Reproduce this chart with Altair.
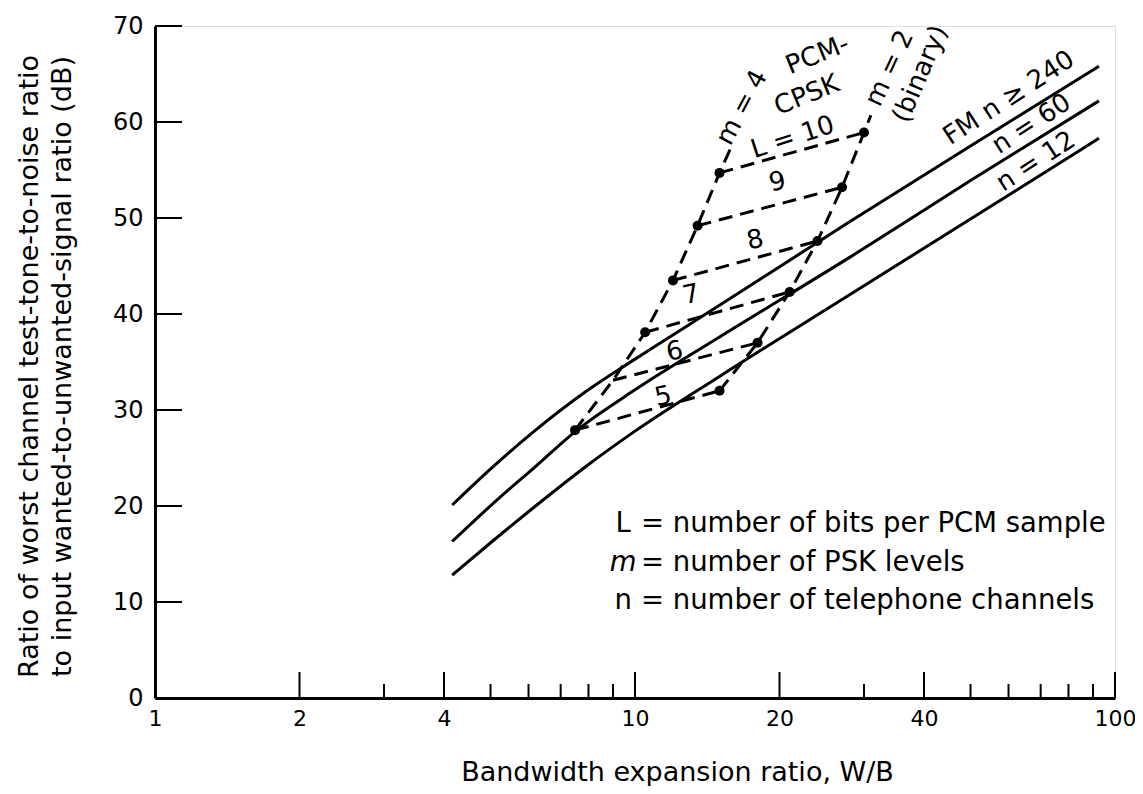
import altair as alt
import pandas as pd

# ---- FM curves (W/B, dB) ----
fm240_x = [4.16, 5.01, 6.17, 7.94, 10.0, 15.0, 28.0, 50.0, 92.6]
fm240_y = [20.1, 23.9, 27.8, 32.0, 35.3, 40.9, 49.6, 57.5, 65.8]
fm60_x = [4.16, 5.23, 6.17, 7.57, 10.0, 15.0, 28.0, 50.0, 92.6]
fm60_y = [16.3, 20.9, 24.0, 27.9, 32.1, 37.6, 45.9, 53.9, 62.2]
fm12_x = [4.16, 5.01, 6.17, 7.94, 10.0, 15.0, 28.0, 50.0, 92.6]
fm12_y = [12.8, 16.2, 19.9, 24.2, 27.8, 33.5, 42.0, 49.9, 58.3]

# ---- PCM-CPSK points, L = 5..10 ----
L_levels = [5, 6, 7, 8, 9, 10]
m4_x = [7.5, 9.0, 10.5, 12.0, 13.5, 15.0]
m4_y = [27.9, 33.1, 38.1, 43.5, 49.2, 54.7]
m2_x = [15.0, 18.0, 21.0, 24.0, 27.0, 30.0]
m2_y = [32.0, 37.0, 42.3, 47.6, 53.2, 58.9]
m4_ext_x, m4_ext_y = 15.8, 57.2
m2_ext_x, m2_ext_y = 31.0, 60.7
m4_dot_levels = [5, 7, 8, 9, 10]

# ---- axis tick values ----
y_ticks = [10, 20, 30, 40, 50, 60, 70]
x_labels = [1, 2, 4, 10, 20, 40, 100]
x_tall = [2, 4, 10, 20, 40, 100]
x_short = [3, 5, 6, 7, 8, 9, 30, 50, 60, 70, 80, 90]

FONT = "DejaVu Sans"
FS = 27

# ---- tables ----
rows = []
for name, xs, ys in [("240", fm240_x, fm240_y), ("60", fm60_x, fm60_y), ("12", fm12_x, fm12_y)]:
    for i, (a, b) in enumerate(zip(xs, ys)):
        rows.append({"s": name, "o": i, "x": a, "y": b})
curves = pd.DataFrame(rows)

drows = []
for i, (a, b) in enumerate(zip(m4_x + [m4_ext_x], m4_y + [m4_ext_y])):
    drows.append({"s": "m4", "o": i, "x": a, "y": b})
for i, (a, b) in enumerate(zip(m2_x + [m2_ext_x], m2_y + [m2_ext_y])):
    drows.append({"s": "m2", "o": i, "x": a, "y": b})
for k, L in enumerate(L_levels):
    drows.append({"s": f"L{L}", "o": 0, "x": m4_x[k], "y": m4_y[k]})
    drows.append({"s": f"L{L}", "o": 1, "x": m2_x[k], "y": m2_y[k]})
dashed = pd.DataFrame(drows)

dots = pd.DataFrame(
    [{"x": m4_x[L_levels.index(L)], "y": m4_y[L_levels.index(L)]} for L in m4_dot_levels]
    + [{"x": a, "y": b} for a, b in zip(m2_x, m2_y)]
)

# ---- encodings ----
xaxis = alt.Axis(values=x_labels, format="d", ticks=False, grid=False,
                 domainWidth=3, domainColor="black", labelPadding=10,
                 labelFontSize=22, labelColor="black", labelFont=FONT,
                 labelFlush=False, labelOverlap=False,
                 title="Bandwidth expansion ratio, W/B", titleFontSize=FS,
                 titleFontWeight="normal", titleFont=FONT, titleColor="black",
                 titleX=522, titleY=74, titleBaseline="middle", titleAlign="center")
yaxis = alt.Axis(values=[0] + y_ticks, ticks=False, grid=False,
                 domainWidth=3, domainColor="black", labelPadding=12,
                 labelFontSize=24, labelColor="black", labelFont=FONT,
                 labelFlush=False, labelOverlap=False,
                 title=["Ratio of worst channel test-tone-to-noise ratio",
                        "to input wanted-to-unwanted-signal ratio (dB)"],
                 titleFontSize=FS, titleFontWeight="normal", titleFont=FONT,
                 titleColor="black", titleAngle=270, titleX=-126, titleY=340,
                 titleBaseline="middle", titleAlign="center", titleLineHeight=33)

XS = alt.Scale(type="log", domain=[1, 100], nice=False)
YS = alt.Scale(domain=[0, 70], nice=False, zero=False)
X = alt.X("x:Q", scale=XS, axis=xaxis)
Y = alt.Y("y:Q", scale=YS, axis=yaxis)

H = 672

curve_layer = alt.Chart(curves).mark_line(color="black", strokeWidth=3, interpolate="monotone").encode(
    x=X, y=Y, detail="s:N", order="o:Q")
dash_layer = alt.Chart(dashed).mark_line(color="black", strokeWidth=3, strokeDash=[14, 8]).encode(
    x=X, y=Y, detail="s:N", order="o:Q")
dot_layer = alt.Chart(dots).mark_point(filled=True, color="black", size=100, opacity=1).encode(x=X, y=Y)

ytick_layer = alt.Chart(pd.DataFrame({"y": y_ticks})).mark_rule(color="black", strokeWidth=2).encode(
    y=Y, x=alt.value(0), x2=alt.value(27))
xtall_layer = alt.Chart(pd.DataFrame({"x": x_tall})).mark_rule(color="black", strokeWidth=2).encode(
    x=X, y=alt.value(H), y2=alt.value(H - 26))
xshort_layer = alt.Chart(pd.DataFrame({"x": x_short})).mark_rule(color="black", strokeWidth=2).encode(
    x=X, y=alt.value(H), y2=alt.value(H - 14))

# ---- annotations: text, x, y, angle ----
ann_text = ["m = 4", "PCM-", "CPSK", "L = 10", "9", "8", "7", "6", "5",
            "m = 2", "(binary)", "FM  n ≥ 240", "n = 60", "n = 12"]
ann_x = [16.7, 24.0, 22.8, 21.3, 19.8, 17.8, 13.1, 12.1, 11.45,
         33.9, 39.3, 60.1, 67.0, 68.4]
ann_y = [61.5, 67.0, 62.8, 58.4, 53.75, 47.7, 42.0, 36.1, 31.4,
         65.6, 65.0, 62.5, 59.8, 55.9]
ann_angle = [298, 338, 338, 342, 348, 348, 348, 348, 348,
             295, 293, 327, 327, 327]

layers = [curve_layer, dash_layer, dot_layer, ytick_layer, xtall_layer, xshort_layer]
for t, a, b, ang in zip(ann_text, ann_x, ann_y, ann_angle):
    layers.append(
        alt.Chart(pd.DataFrame({"x": [a], "y": [b], "t": [t]})).mark_text(
            angle=ang, fontSize=26, font=FONT, color="black", align="center", baseline="middle"
        ).encode(x=X, y=Y, text="t:N")
    )

# ---- definitions block ----
leg_sym = ["L", "m", "n"]
leg_rest = ["= number of bits per PCM sample", "= number of PSK levels",
            "= number of telephone channels"]
leg_y = [18.1, 14.1, 10.1]
leg_sym_x = 9.45
leg_rest_x = 10.29
for s, r, yy in zip(leg_sym, leg_rest, leg_y):
    layers.append(
        alt.Chart(pd.DataFrame({"x": [leg_sym_x], "y": [yy], "t": [s]})).mark_text(
            fontSize=27.5, font=FONT, color="black", align="center", baseline="middle",
            fontStyle="italic" if s == "m" else "normal"
        ).encode(x=X, y=Y, text="t:N")
    )
    layers.append(
        alt.Chart(pd.DataFrame({"x": [leg_rest_x], "y": [yy], "t": [r]})).mark_text(
            fontSize=27.5, font=FONT, color="black", align="left", baseline="middle"
        ).encode(x=X, y=Y, text="t:N")
    )

chart = alt.layer(*layers).properties(
    width=960, height=H,
    autosize=alt.AutoSizeParams(type="none"),
    padding={"left": 147, "top": 18, "right": 20, "bottom": 88},
    background="white",
).configure_view(stroke=None).configure(font=FONT)

chart.save("out.html", embed_options={"renderer": "svg", "actions": False})
